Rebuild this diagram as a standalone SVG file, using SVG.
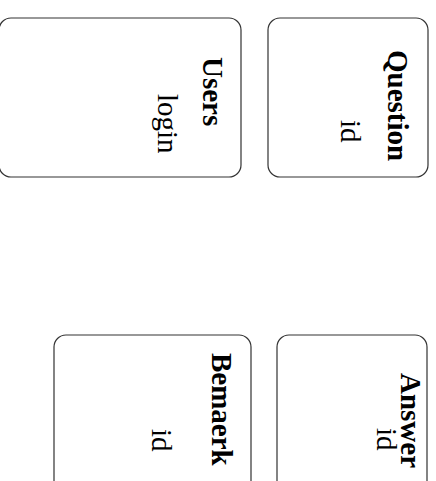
<svg xmlns="http://www.w3.org/2000/svg" width="436" height="481" viewBox="0 0 436 481">
<style>
.box{fill:#fff;stroke:#333;stroke-width:1.2}
.t{font-family:"Liberation Serif","Times New Roman",serif;font-size:29px;fill:#000}
.b{font-weight:bold}
</style>
<rect width="436" height="481" fill="#fff"/>
<g id="connectors"></g>
<g id="users">
<rect class="box" x="-1" y="18" width="242" height="159" rx="12"/>
<text class="t b" transform="translate(203,57) rotate(90)">Users</text>
<text class="t" transform="translate(158,94) rotate(90)">login</text>
</g>
<g id="question">
<rect class="box" x="268" y="18" width="160" height="159" rx="12"/>
<text class="t b" transform="translate(388,50) rotate(90)">Question</text>
<text class="t" transform="translate(341,120) rotate(90)">id</text>
</g>
<g id="bemaerk">
<rect class="box" x="54" y="335" width="197" height="160" rx="12"/>
<text class="t b" transform="translate(212,353) rotate(90)">Bemaerk</text>
<text class="t" transform="translate(152,429) rotate(90)">id</text>
</g>
<g id="answer">
<rect class="box" x="277" y="335" width="150" height="160" rx="12"/>
<text class="t b" transform="translate(401,373) rotate(90)">Answer</text>
<text class="t" transform="translate(377,428) rotate(90)">id</text>
</g>
</svg>
